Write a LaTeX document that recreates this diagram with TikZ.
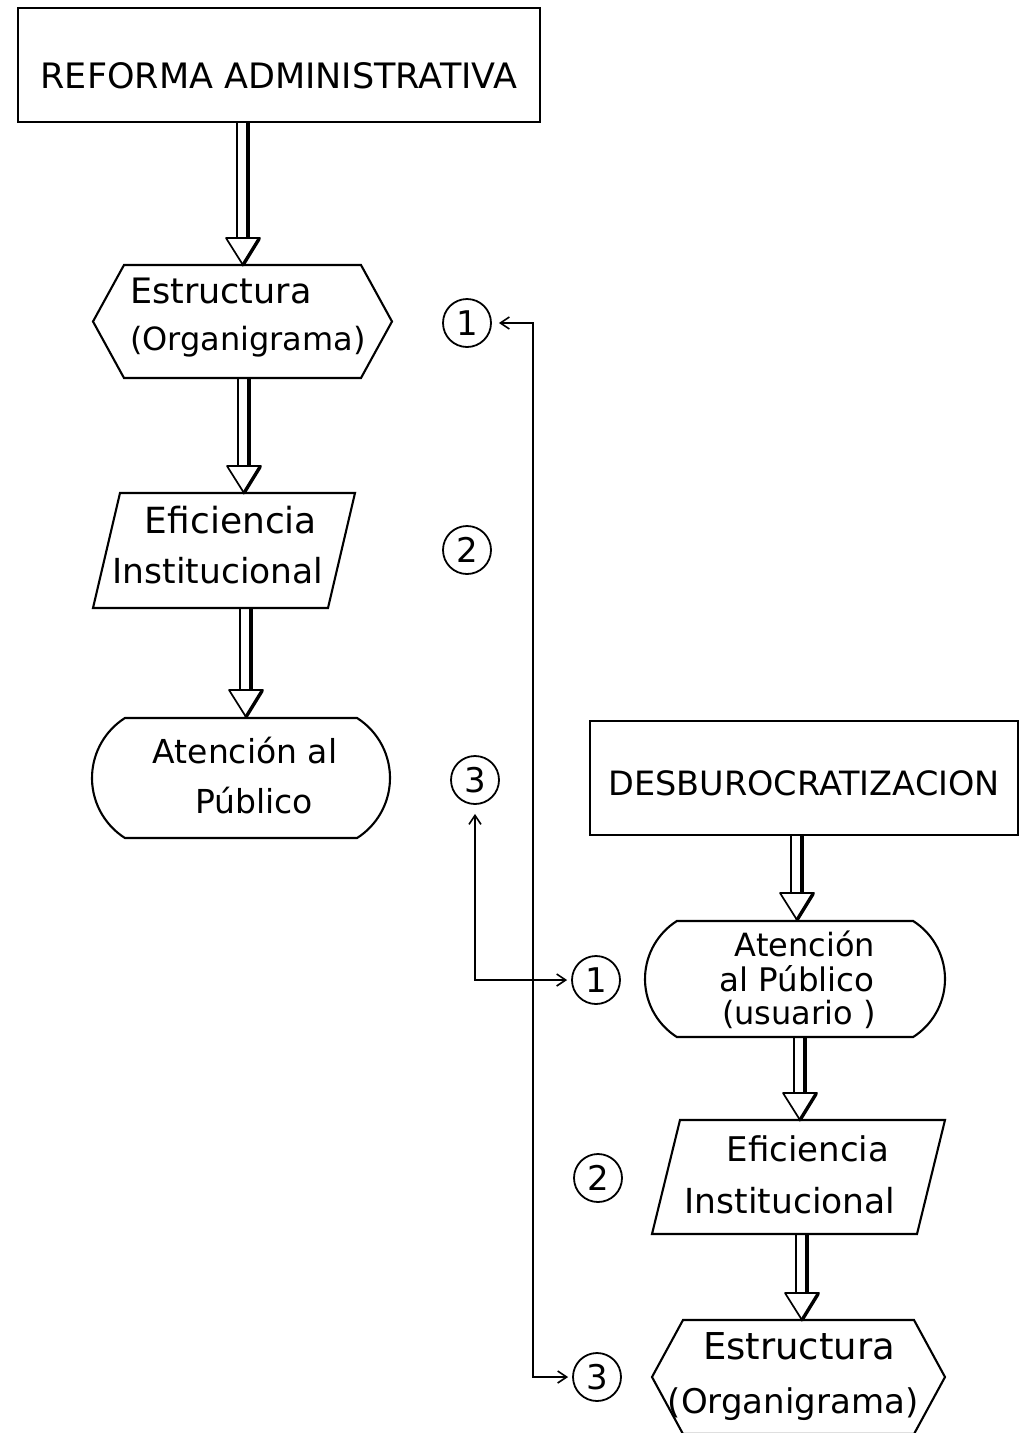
\documentclass[tikz,border=0pt]{standalone}
\usepackage{fontspec}
\setmainfont{DejaVu Sans}
\usetikzlibrary{arrows.meta,shapes.misc,calc}
\tikzset{
  outline/.style={line width=2.1pt, line join=miter},
  frame/.style={draw, outline, inner sep=0pt},
  holder/.style={inner sep=0pt, outer sep=0pt},
  lbl/.style={inner sep=0pt, outer sep=0pt},
  stadium/.style={draw, outline, rounded rectangle, rounded rectangle arc length=115, inner sep=0pt},
  numc/.style={circle, draw, line width=1.8pt, minimum size=48pt, inner sep=0pt, font=\fontsize{34}{34}\selectfont},
  conn/.style={line width=1.6pt, arrows={Straight Barb[length=9pt,width=12pt]-Straight Barb[length=9pt,width=12pt]}},
}
\newcommand{\fs}[1]{\fontsize{#1}{#1}\selectfont}
\newcommand{\hexoutline}[2]{\draw[outline] (#1.west) -- ([xshift=#2]#1.north west) -- ([xshift=-#2]#1.north east) -- (#1.east) -- ([xshift=-#2]#1.south east) -- ([xshift=#2]#1.south west) -- cycle;}
\newcommand{\paraoutline}[2]{\draw[outline] ([xshift=#2]#1.north west) -- (#1.north east) -- ([xshift=-#2]#1.south east) -- (#1.south west) -- cycle;}
\newcommand{\dblarrow}[3]{%
  \coordinate (dbx) at (#3,0);
  \coordinate (dbS) at (#1.south -| dbx);
  \coordinate (dbT) at (#2.north -| dbx);
  \draw[line width=1.6pt] ([xshift=-6pt]dbS) -- ([xshift=-6pt,yshift=27pt]dbT);
  \draw[line width=3.4pt] ([xshift=5pt]dbS) -- ([xshift=5pt,yshift=27pt]dbT);
  \draw[line width=1.7pt, line join=round, fill=white] ([xshift=-17pt,yshift=27pt]dbT) -- ([xshift=17pt,yshift=27pt]dbT) -- (dbT) -- cycle;
  \draw[line width=3.4pt, line cap=round] ([xshift=16pt,yshift=26pt]dbT) -- (dbT);
}
\begin{document}
\begin{tikzpicture}[x=1pt,y=-1pt]
\fill[white] (0,0) rectangle (1019,1433);
\useasboundingbox (0,0) rectangle (1019,1433);

% ---------- left column ----------
\node[frame, minimum width=522pt, minimum height=114pt] (b1) at (279,65) {};
\node[lbl, anchor=base, font=\fs{35}] (b1t) at (279,88) {REFORMA ADMINISTRATIVA};

\node[holder, minimum width=299pt, minimum height=113pt] (h1) at (242.5,321.5) {};
\hexoutline{h1}{31pt}
\node[lbl, anchor=base west, font=\fs{35}] (h1t1) at (130,303) {Estructura};
\node[lbl, anchor=base west, font=\fs{32}] (h1t2) at (130,350) {(Organigrama)};

\node[holder, minimum width=262pt, minimum height=115pt] (p1) at (224,550.5) {};
\paraoutline{p1}{27pt}
\node[lbl, anchor=base, font=\fs{36}] (p1t1) at (231,533) {Eficiencia};
\node[lbl, anchor=base, font=\fs{34.5}] (p1t2) at (218,583) {Institucional};

\node[stadium, minimum width=298pt, minimum height=120pt] (s1) at (241,778) {};
\node[lbl, anchor=base, font=\fs{33}] (s1t1) at (245,763) {Atención al};
\node[lbl, anchor=base, font=\fs{33}] (s1t2) at (254,813) {Público};

\dblarrow{b1}{h1}{243}
\dblarrow{h1}{p1}{244}
\dblarrow{p1}{s1}{246}

% ---------- numbers ----------
\node[numc] (c1a) at (467,323) {1};
\node[numc] (c2a) at (467,550) {2};
\node[numc] (c3a) at (475,780) {3};
\node[numc] (c1b) at (596,980) {1};
\node[numc] (c2b) at (598,1178) {2};
\node[numc] (c3b) at (597,1377) {3};

% ---------- right column ----------
\node[frame, minimum width=428pt, minimum height=114pt] (b2) at (804,778) {};
\node[lbl, anchor=base, font=\fs{33.5}] (b2t) at (804,795) {DESBUROCRATIZACION};

\node[stadium, minimum width=300pt, minimum height=116pt] (s2) at (795,979) {};
\node[lbl, anchor=base, font=\fs{32}] (s2t1) at (805,956) {Atención};
\node[lbl, anchor=base, font=\fs{32.5}] (s2t2) at (797,991) {al Público};
\node[lbl, anchor=base, font=\fs{32}] (s2t3) at (799,1024) {(usuario )};

\node[holder, minimum width=293pt, minimum height=114pt] (p2) at (798.5,1177) {};
\paraoutline{p2}{28pt}
\node[lbl, anchor=base, font=\fs{34}] (p2t1) at (808,1161) {Eficiencia};
\node[lbl, anchor=base, font=\fs{34.5}] (p2t2) at (790,1213) {Institucional};

\node[holder, minimum width=293pt, minimum height=114pt] (h2) at (798.5,1377) {};
\hexoutline{h2}{31pt}
\node[lbl, anchor=base, font=\fs{37}] (h2t1) at (799,1359) {Estructura};
\node[lbl, anchor=base, font=\fs{34}] (h2t2) at (793,1413) {(Organigrama)};

\dblarrow{b2}{s2}{797}
\dblarrow{s2}{p2}{800}
\dblarrow{p2}{h2}{802}

% ---------- cross connectors ----------
\coordinate (kA) at (533,1377);
\draw[conn, shorten <=7pt, shorten >=4pt] (c1a.east) -| (kA) -- (c3b.west);
\draw[conn, shorten <=9pt, shorten >=4pt] (c3a.south) |- (c1b.west);
\end{tikzpicture}
\end{document}
